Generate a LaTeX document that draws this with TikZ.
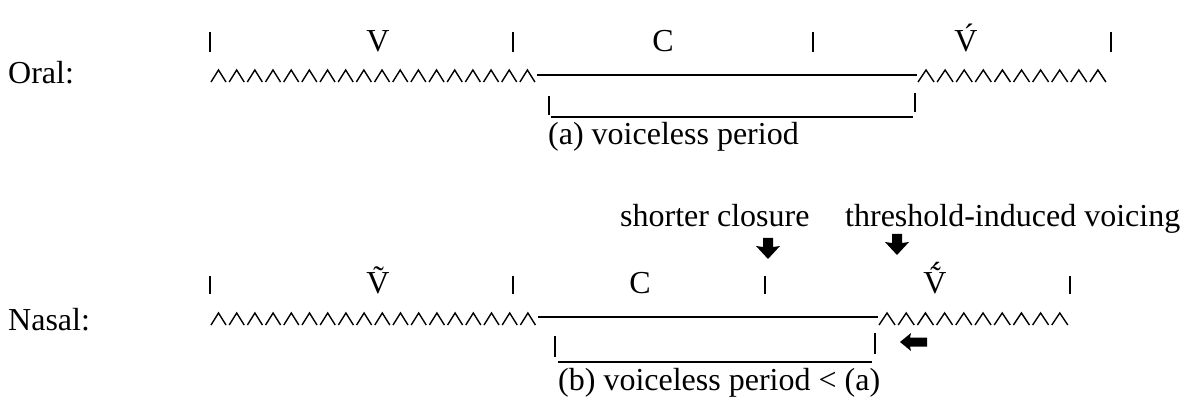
\documentclass[tikz,border=0pt]{standalone}
\usepackage{fontspec}
\setmainfont{Liberation Serif}
\begin{document}
\begin{tikzpicture}[x=1pt,y=-1pt,
  lbl/.style={inner sep=0pt,anchor=base,font=\fontsize{32}{38}\selectfont},
  txt/.style={inner sep=0pt,anchor=base west,font=\fontsize{32}{38}\selectfont},
  tick/.style={line width=1.5pt},
  zz/.style={line width=1.4pt,line join=miter},
  bar/.style={line width=1.8pt},
  darrow/.pic={\fill (-5,0) -- (5,0) -- (5,9) -- (12,8) -- (0,21) -- (-12,8) -- (-5,9) -- cycle;},
  larrow/.pic={\fill (0,0) -- (11,-9) -- (10,-4.5) -- (27,-4.5) -- (27,4.5) -- (10,4.5) -- (11,9) -- cycle;}]
\useasboundingbox (0,0) rectangle (1194,398);

% ---------------- Oral ----------------
\node[txt] (oral) at (8,84) {Oral:};
\foreach \x/\n in {210/a,513/b,813/c,1111/d}
  \draw[tick] (\x,32) -- (\x,52) coordinate (ot\n);
\node[lbl] (ov1) at (378,52) {V};
\node[lbl] (oc) at (663,52) {C};
\node[lbl] (ov2) at (966,52) {\'V};
\foreach \i in {0,...,17}
  \draw[zz] ({211+\i*18.17},82) -- ++(7.5,-12) -- ++(7.5,12);
\coordinate (ozl) at (537,75);
\coordinate (ozr) at (917,75);
\draw[bar] (ozl) -- (ozr);
\foreach \i in {0,...,9}
  \draw[zz] ({918+\i*19.1},82) -- ++(8,-12) -- ++(8,12);
% bracket (a)
\coordinate (oba) at (549,96);
\coordinate (obb) at (915,93);
\draw[tick] (oba) -- ++(0,19);
\draw[bar] (551,117) -- (913,117);
\draw[tick] (obb) -- ++(0,19);
\node[txt] (otxt) at (548,145) {(a) voiceless period};

% ---------------- Nasal ----------------
\node[txt] (nasal) at (8,330) {Nasal:};
\foreach \x/\n in {210/a,513/b,765/c,1070/d}
  \draw[tick] (\x,276) -- (\x,294) coordinate (nt\n);
\node[lbl] (nv1) at (378,293) {\~{V}};
\node[lbl] (nc) at (640,293) {C};
\node[lbl] (nv2) at (935,293) {\ooalign{\~{V}\cr\hidewidth\kern0.06em\raisebox{0.27em}{´}\hidewidth\cr}};
\foreach \i in {0,...,17}
  \draw[zz] ({211+\i*18.2},325) -- ++(7.5,-12) -- ++(7.5,12);
\coordinate (nzl) at (538,317);
\coordinate (nzr) at (878,317);
\draw[bar] (nzl) -- (nzr);
\foreach \i in {0,...,9}
  \draw[zz] ({879+\i*19.2},325) -- ++(8,-12) -- ++(8,12);
% bracket (b)
\coordinate (nba) at (555,336);
\coordinate (nbb) at (875,333);
\draw[tick] (nba) -- ++(0,21);
\draw[bar] (558,362) -- (872,362);
\draw[tick] (nbb) -- ++(0,21);
\node[txt] (ntxt) at (558,390) {(b) voiceless period < (a)};

% annotations
\node[txt] (short) at (620,227) {shorter closure};
\node[txt] (thr) at (845,227) {threshold-induced voicing};
\pic at (768,238) {darrow};
\pic at (897,234) {darrow};
\pic at (900,342) {larrow};
\end{tikzpicture}
\end{document}
